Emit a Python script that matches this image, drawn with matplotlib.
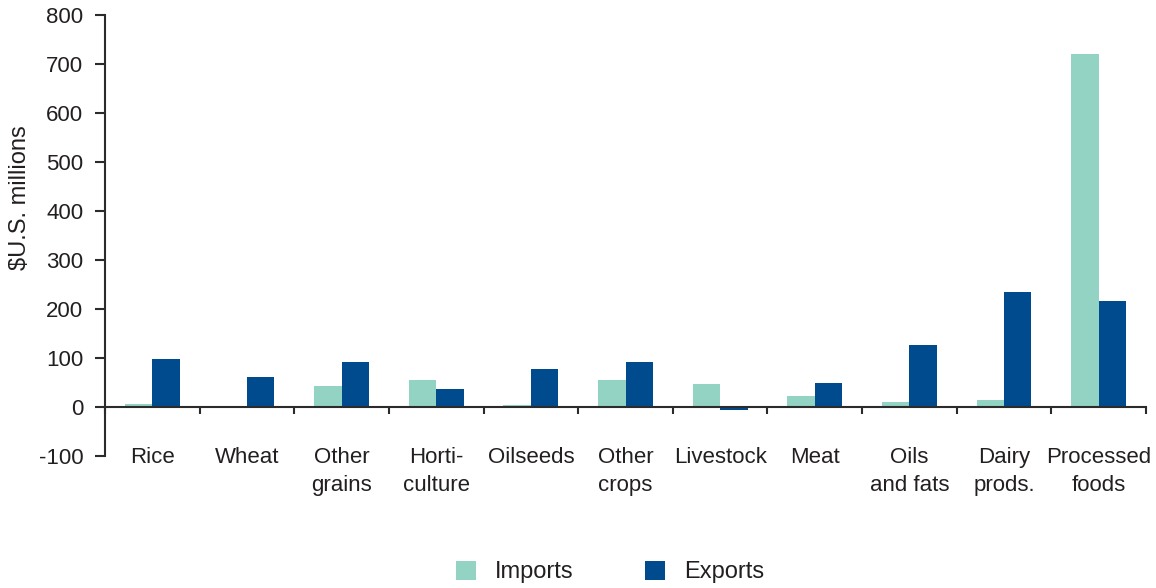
import numpy as np
import matplotlib
matplotlib.use('Agg')
import matplotlib.pyplot as plt

plt.rcParams['font.family'] = ['Liberation Sans', 'DejaVu Sans']
plt.rcParams['axes.unicode_minus'] = False

categories = ['Rice', 'Wheat', 'Other\ngrains', 'Horti-\nculture', 'Oilseeds',
              'Other\ncrops', 'Livestock', 'Meat', 'Oils\nand fats',
              'Dairy\nprods.', 'Processed\nfoods']
imports = [7, 0, 43, 55, 5, 55, 47, 22, 10, 14, 720]
exports = [98, 61, 92, 37, 78, 92, -6, 50, 126, 235, 216]

text_col = '#231F20'
imp_col = '#93D3C3'
exp_col = '#004B8D'
fs = 16

fig = plt.figure(figsize=(11.56, 5.88), dpi=100)
ax = fig.add_axes([105/1156, 1 - 456/588, 1041/1156, 441/588])

x = np.arange(len(categories))
w = 0.29
ax.bar(x - w/2, imports, w, color=imp_col, label='Imports', zorder=2)
ax.bar(x + w/2, exports, w, color=exp_col, label='Exports', zorder=2)

ax.set_xlim(-0.5, len(categories) - 0.5)
ax.set_ylim(-100, 800)
ax.set_yticks(np.arange(-100, 801, 100))

ax.spines['top'].set_visible(False)
ax.spines['right'].set_visible(False)
ax.spines['bottom'].set_position(('data', 0))
for s in ('left', 'bottom'):
    ax.spines[s].set_color('#2b2b2b')
    ax.spines[s].set_linewidth(1.5)
    ax.spines[s].set_zorder(3)

# boundary ticks on the zero line, category names as minor tick labels
ax.set_xticks(np.arange(-0.5, len(categories)), labels=[''] * (len(categories) + 1))
ax.set_xticks(x, minor=True)
ax.set_xticklabels(categories, minor=True, fontsize=fs, color=text_col,
                   linespacing=1.45, va='top')
ax.tick_params(axis='x', which='major', direction='out', length=5, width=1.5,
               color='#2b2b2b')
ax.tick_params(axis='x', which='minor', length=0, pad=28.5)
ax.tick_params(axis='y', direction='out', length=7.5, width=1.5, color='#2b2b2b',
               labelsize=fs, labelcolor=text_col, pad=8)

fig.text(20/1156, 1 - 198/588, '$U.S. millions', rotation=90, ha='center',
         va='center', fontsize=17, color=text_col)

fig.legend(loc='center', bbox_to_anchor=(610/1156, 1 - 572/588), ncol=2,
           frameon=False, fontsize=17, handlelength=0.85, handleheight=0.85,
           handletextpad=0.8, columnspacing=3.05, labelcolor=text_col)

fig.savefig('out.png', dpi=100)
